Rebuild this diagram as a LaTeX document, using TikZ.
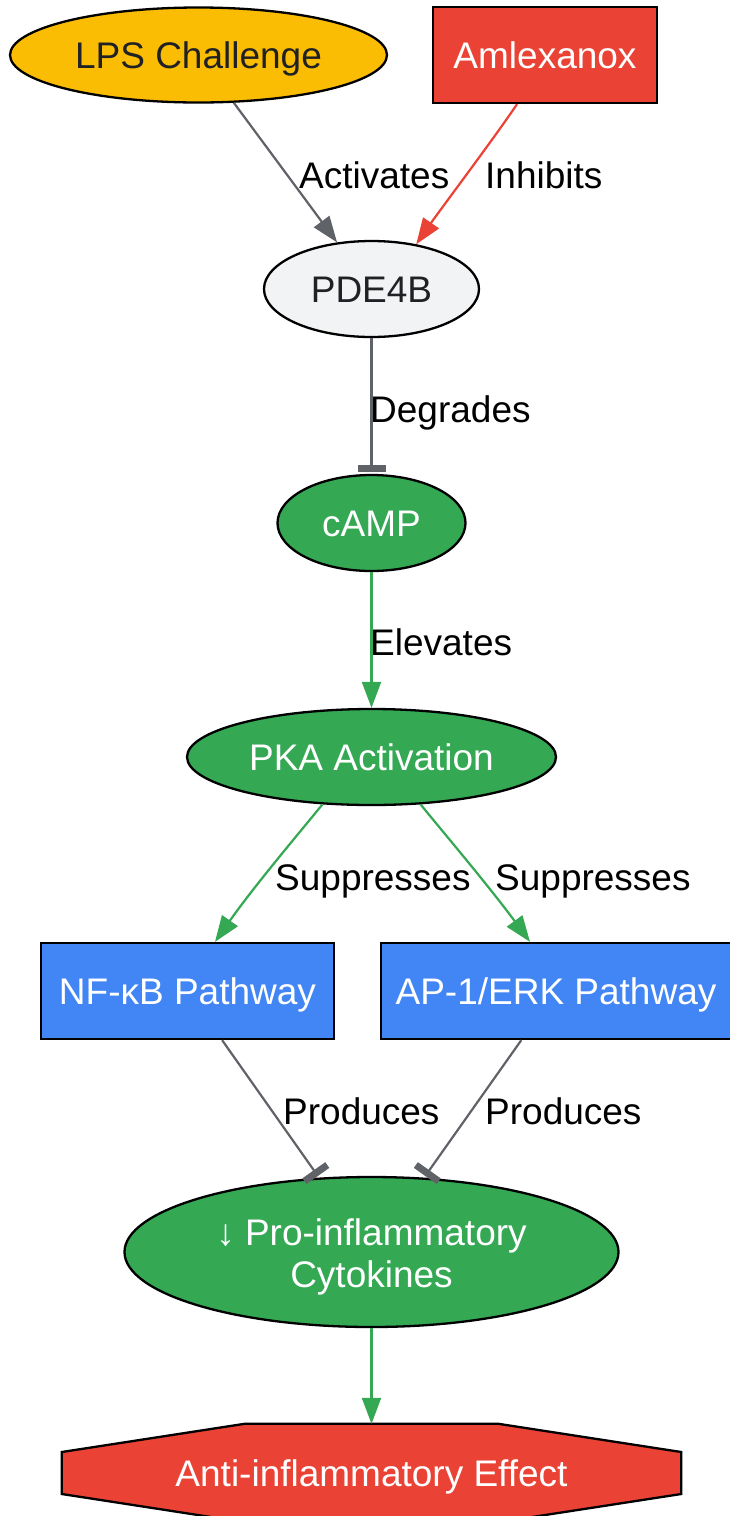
\documentclass[tikz,border=0pt]{standalone}
\usepackage{fontspec}
\setmainfont{Liberation Sans}
\usetikzlibrary{arrows.meta,shapes.geometric,calc}
\definecolor{cyel}{HTML}{FBBC04}
\definecolor{cred}{HTML}{EA4335}
\definecolor{cgrn}{HTML}{34A853}
\definecolor{cblu}{HTML}{4285F4}
\definecolor{clgt}{HTML}{F1F3F4}
\definecolor{cdrk}{HTML}{202124}
\definecolor{cgry}{HTML}{5F6368}
\begin{document}
\begin{tikzpicture}[x=1pt,y=1pt,
  font=\fontsize{37}{42}\selectfont,
  nodebase/.style={draw=black, line width=2.3pt, inner sep=0pt, align=center},
  oneline/.style={text height=27pt, text depth=0pt},
  ell/.style={nodebase, ellipse},
  box/.style={nodebase, rectangle},
  lbl/.style={inner sep=0pt, anchor=base west, text=black},
  gline/.style={draw=cgry, line width=2.2pt},
  rline/.style={draw=cred, line width=2.2pt},
  gnline/.style={draw=cgrn, line width=2.2pt},
  arr/.style={-{Triangle[length=26pt,width=19pt]}},
  teeend/.style={-{Rectangle[length=7pt,width=28pt]}, shorten >=2pt},
]
\useasboundingbox (0,0) rectangle (729,-1516);

% nodes
\node[ell, oneline, fill=cyel, text=cdrk, minimum width=377pt, minimum height=95pt] (lps) at (198.5,-55) {LPS Challenge};
\node[box, oneline, fill=cred, text=white, minimum width=224pt, minimum height=96pt] (aml) at (545,-55) {Amlexanox};
\node[ell, oneline, fill=clgt, text=cdrk, minimum width=215pt, minimum height=96pt] (pde) at (371.5,-289) {PDE4B};
\node[ell, oneline, fill=cgrn, text=white, minimum width=188pt, minimum height=96pt] (camp) at (371.5,-523) {cAMP};
\node[ell, oneline, fill=cgrn, text=white, minimum width=369pt, minimum height=96pt] (pka) at (371.5,-757) {PKA Activation};
\node[box, oneline, fill=cblu, text=white, minimum width=293pt, minimum height=96pt] (nf) at (187.5,-991) {NF-κB Pathway};
\node[box, oneline, fill=cblu, text=white, minimum width=350pt, minimum height=96pt] (ap) at (556,-991) {AP-1/ERK Pathway};
\node[ell, fill=cgrn, minimum width=494pt, minimum height=150pt,
  label={[name=cytt, align=center, text=white, inner sep=0pt, yshift=-5pt]center:↓ Pro-inflammatory\\Cytokines}] (cyt) at (371.5,-1252) {};
\node[rectangle, draw=none, inner sep=0pt, minimum width=619pt, minimum height=98pt] (eff) at (371.5,-1473) {};
\draw[line width=2.3pt, fill=cred]
  ($(eff.north)+(-127,0)$) -- ($(eff.north)+(127,0)$) -- ($(eff.east)+(0,21)$) -- ($(eff.east)+(0,-21)$)
  -- ($(eff.south)+(127,0)$) -- ($(eff.south)+(-127,0)$) -- ($(eff.west)+(0,-21)$) -- ($(eff.west)+(0,21)$) -- cycle;
\node[oneline, inner sep=0pt, text=white] (efft) at (eff.center) {Anti-inflammatory Effect};

% connectors
\draw[gline, arr] (lps) -- (pde);
\draw[rline, arr] ($(aml.south)+(-28,0)$) .. controls (495,-137) and (440,-210) .. (pde.45);
\draw[gline, teeend] (pde) -- (camp);
\draw[gnline, arr] (camp) -- (pka);
\draw[gnline, arr] (pka.224) .. controls (300,-832) and (255,-885) .. ($(nf.north)+(27.5,0)$);
\draw[gnline, arr] (pka.316) .. controls (443,-832) and (488,-885) .. ($(ap.north)+(-26,0)$);
\draw[gline, teeend] (nf) -- (cyt);
\draw[gline, teeend] (ap) -- (cyt);
\draw[gnline, arr] (cyt) -- (eff.north);

% labels
\node[lbl] (l1) at (299,-188) {Activates};
\node[lbl] (l2) at (485,-188) {Inhibits};
\node[lbl] (l3) at (370,-422) {Degrades};
\node[lbl] (l4) at (370,-655) {Elevates};
\node[lbl] (l5) at (275,-890) {Suppresses};
\node[lbl] (l6) at (495,-890) {Suppresses};
\node[lbl] (l7) at (283,-1124) {Produces};
\node[lbl] (l8) at (485,-1124) {Produces};
\end{tikzpicture}
\end{document}
